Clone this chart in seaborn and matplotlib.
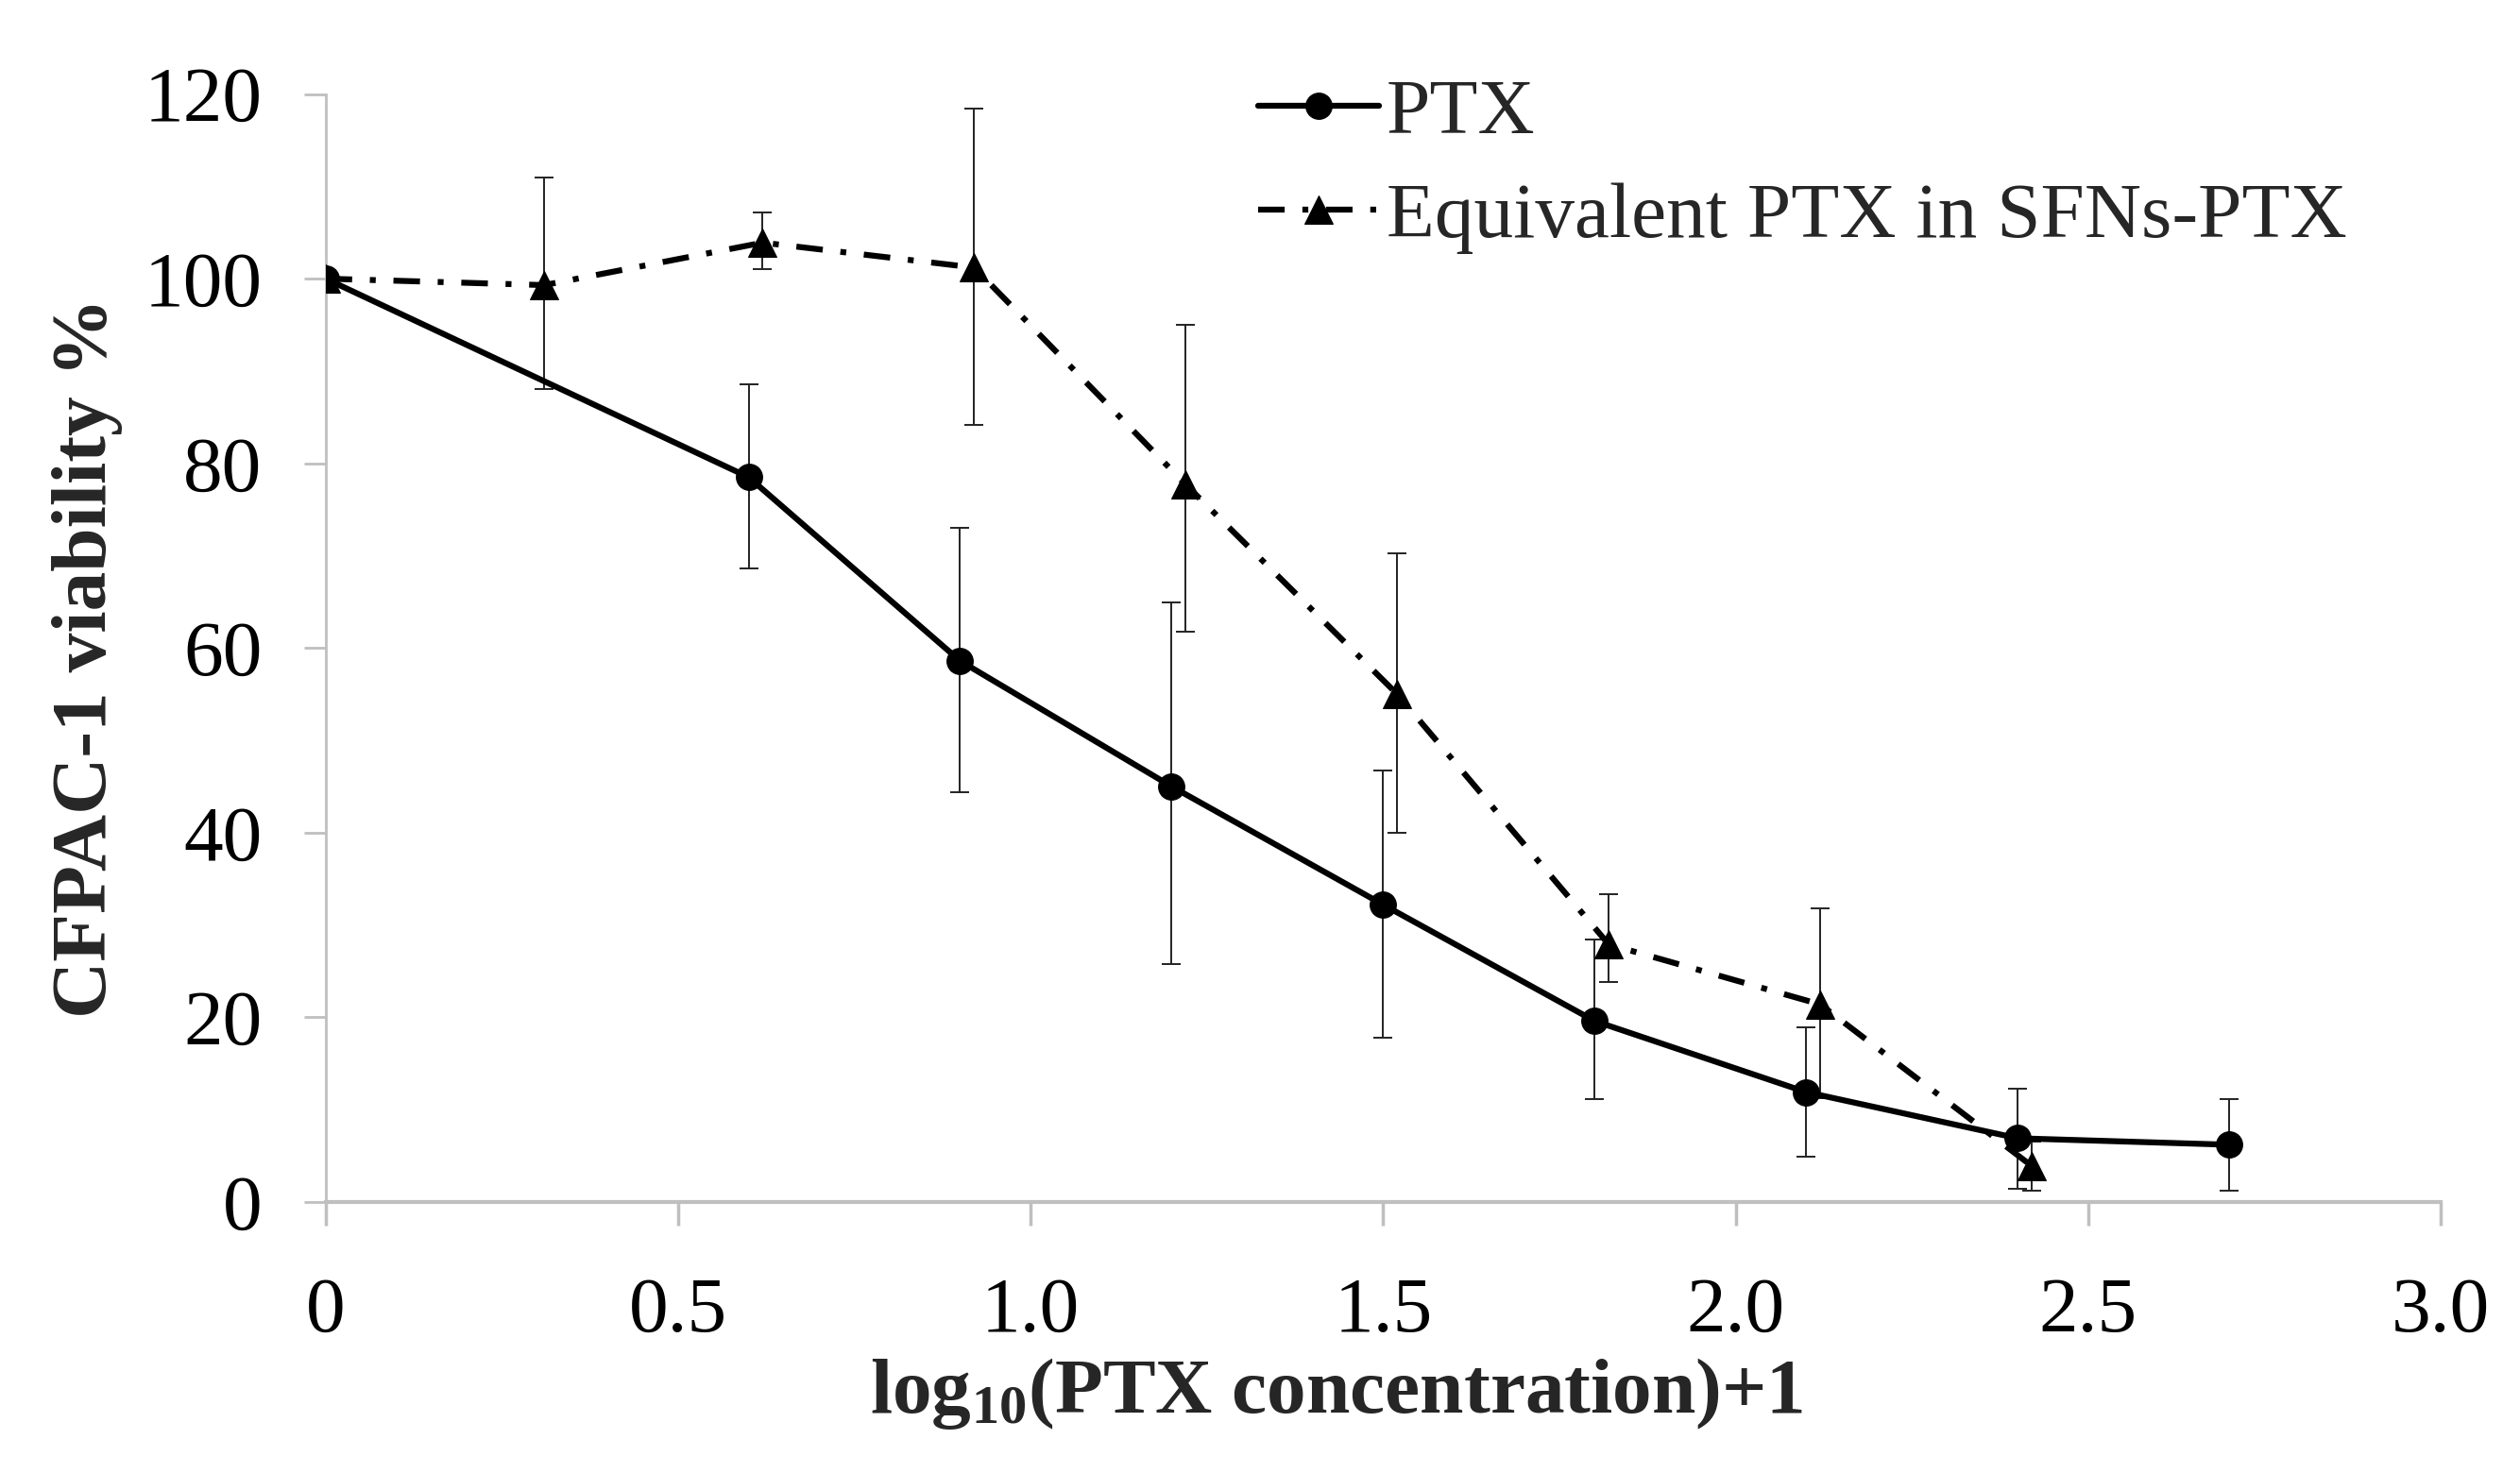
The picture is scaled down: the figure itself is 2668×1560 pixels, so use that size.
import numpy as np
import matplotlib.pyplot as plt
import seaborn as sns

# PTX alone
ptx_x = [0, 0.6, 0.9, 1.2, 1.5, 1.8, 2.1, 2.4, 2.7]
ptx_y = [100, 78.5, 58.6, 45.0, 32.2, 19.6, 11.9, 6.9, 6.2]
ptx_low = [100, 68.6, 44.4, 25.8, 17.8, 11.1, 4.9, 1.4, 1.2]
ptx_high = [100, 88.6, 73.0, 64.9, 46.7, 28.4, 18.9, 12.3, 11.1]

# equivalent PTX in SFNs-PTX
sfn_x = [0, 0.31, 0.62, 0.92, 1.22, 1.52, 1.82, 2.12, 2.42]
sfn_y = [100, 99.3, 103.9, 101.2, 77.7, 55.0, 27.9, 21.4, 3.9]
sfn_low = [100, 88.0, 101.0, 84.2, 61.8, 40.0, 23.8, 11.2, 1.2]
sfn_high = [100, 111.0, 107.2, 118.4, 95.0, 70.3, 33.3, 31.8, 6.5]

x_ticks = [0, 0.5, 1.0, 1.5, 2.0, 2.5, 3.0]
x_ticklabels = ['0', '0.5', '1.0', '1.5', '2.0', '2.5', '3.0']
y_ticks = [0, 20, 40, 60, 80, 100, 120]

sns.set_style('white')
plt.rcParams['font.family'] = ['Liberation Serif', 'DejaVu Serif']
plt.rcParams['mathtext.fontset'] = 'custom'
plt.rcParams['mathtext.rm'] = 'Liberation Serif:bold'
plt.rcParams['mathtext.it'] = 'Liberation Serif:bold'
plt.rcParams['mathtext.bf'] = 'Liberation Serif:bold'

fig = plt.figure(figsize=(26.68, 15.6), dpi=100)
ax = fig.add_axes([0.1292, 0.1840, 0.8393, 0.7522])

grey = '#bfbfbf'
fs = 60

# error bars
ax.errorbar(ptx_x, ptx_y,
            yerr=[np.array(ptx_y) - np.array(ptx_low), np.array(ptx_high) - np.array(ptx_y)],
            fmt='none', ecolor='#222222', elinewidth=1.4, capsize=7.5, capthick=1.4, zorder=1)
ax.errorbar(sfn_x, sfn_y,
            yerr=[np.array(sfn_y) - np.array(sfn_low), np.array(sfn_high) - np.array(sfn_y)],
            fmt='none', ecolor='#222222', elinewidth=1.4, capsize=7.5, capthick=1.4, zorder=1)

sns.lineplot(x=sfn_x, y=sfn_y, ax=ax, color='black', marker='^', markersize=22,
             markeredgecolor='black', linewidth=4.5, linestyle=(0, (4.5, 3, 1, 3)),
             label='Equivalent PTX in SFNs-PTX', zorder=3)
sns.lineplot(x=ptx_x, y=ptx_y, ax=ax, color='black', marker='o', markersize=20,
             markeredgecolor='black', linewidth=4.5, label='PTX', zorder=4)

ax.set_xlim(0, 3.0)
ax.set_ylim(0, 120)
ax.set_xticks(x_ticks)
ax.set_xticklabels(x_ticklabels)
ax.set_yticks(y_ticks)

for s in ['top', 'right']:
    ax.spines[s].set_visible(False)
ax.spines['left'].set_color(grey)
ax.spines['left'].set_linewidth(2)
ax.spines['bottom'].set_color(grey)
ax.spines['bottom'].set_linewidth(3)

ax.tick_params(axis='y', direction='out', length=16.5, width=2, color=grey,
               labelsize=fs, labelcolor='black', pad=32, left=True)
ax.tick_params(axis='x', direction='out', length=18, width=2.5, color=grey,
               labelsize=fs, labelcolor='black', pad=39, bottom=True)

ax.set_ylabel('CFPAC-1 viability %', fontsize=fs, fontweight='bold')
ax.yaxis.set_label_coords(-0.096, 0.491)
ax.set_xlabel(r'log$_{\mathrm{10}}$(PTX concentration)+1', fontsize=fs, fontweight='bold')
ax.xaxis.set_label_coords(0.478, -0.139)

handles, labels = ax.get_legend_handles_labels()
ax.legend(handles[::-1], labels[::-1], loc='upper left', bbox_to_anchor=(0.441, 1.014),
          frameon=False, fontsize=fs, handlelength=1.53, handletextpad=0.1,
          labelspacing=0.4, borderpad=0, borderaxespad=0, numpoints=1)

fig.savefig('out.png', dpi=100)
